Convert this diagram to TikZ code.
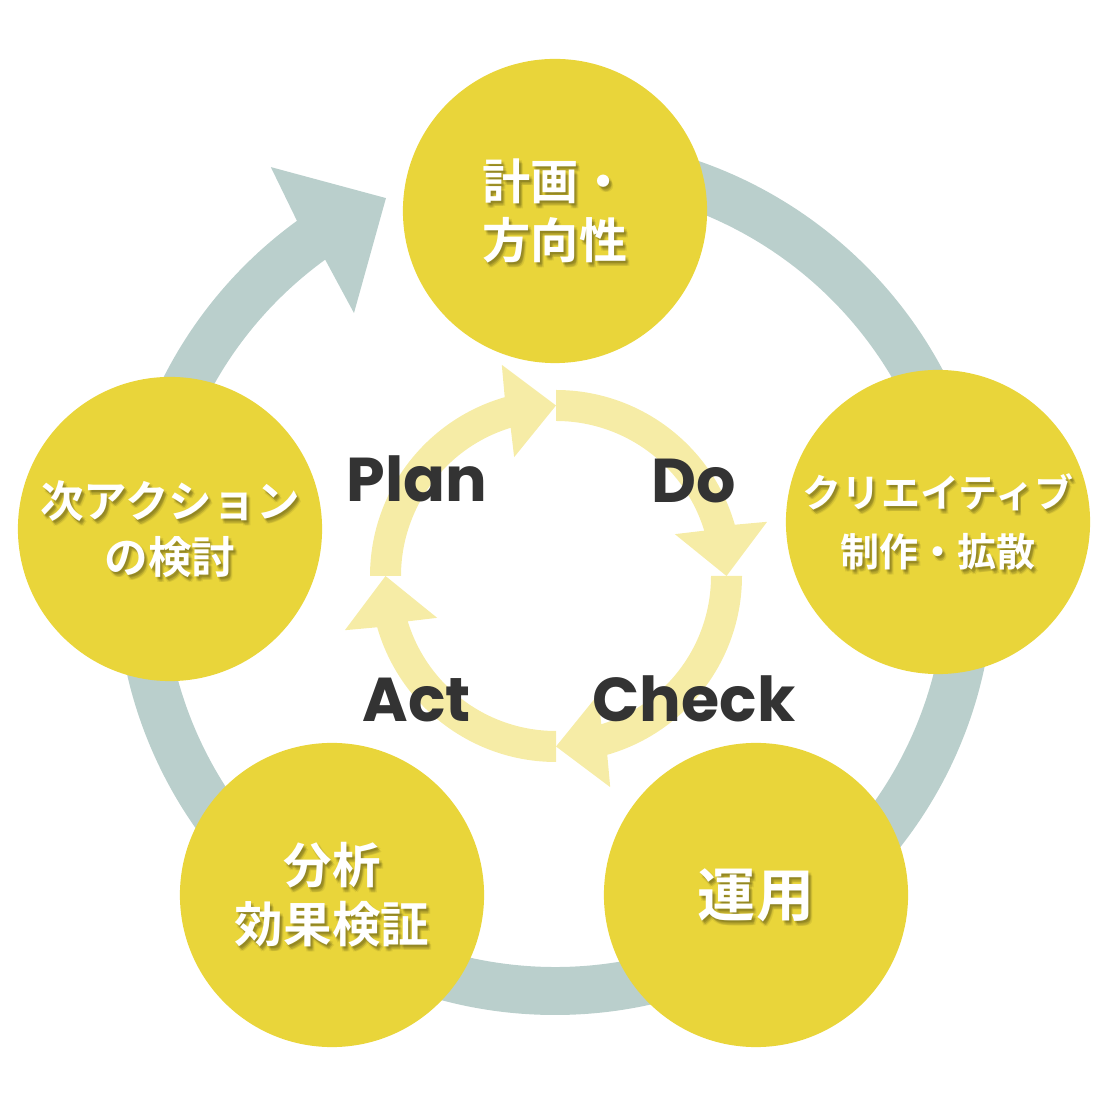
\documentclass[tikz,border=0pt]{standalone}
\usepackage{fontspec}
\newfontfamily\jpfont{Noto Sans CJK JP}[BoldFont={Noto Sans CJK JP Bold}]
\newfontfamily\pdcafont{Poppins}[BoldFont={Poppins Bold}]
\usetikzlibrary{calc}
\definecolor{cycyellow}{RGB}{233, 213, 58}
\definecolor{cycgray}{RGB}{186, 207, 204}
\definecolor{cyclight}{RGB}{246, 236, 166}
\definecolor{cycdark}{RGB}{51, 51, 51}

\begin{document}
\begin{tikzpicture}[x=0.01cm, y=0.01cm,
    bubble/.style={circle, fill=cycyellow, minimum size=3.04cm, inner sep=0pt},
    bubble text/.style={text=white, align=center, inner sep=0pt},
    bubble shade/.style={text=black, text opacity=0.07, align=center, inner sep=0pt},
    pdca/.style={text=cycdark, anchor=base, inner sep=0pt,
        font=\pdcafont\bfseries\fontsize{17.6pt}{20pt}\selectfont}]

\useasboundingbox (0,0) rectangle (1106,1106);

% =====================================================
% ANILLO EXTERIOR (gris) con flecha
% =====================================================
\coordinate (C) at (555,530);
\fill[cycgray]
    ($(C)+(90:439)$) arc[start angle=90, end angle=-234, radius=439]
    -- ($(C)+(124.8:498)$) -- ($(C)+(114.1:414)$) -- ($(C)+(127.4:331)$)
    -- ($(C)+(-234:391)$) arc[start angle=-234, end angle=90, radius=391]
    -- cycle;

% =====================================================
% CICLO PDCA (interior)
% =====================================================
\coordinate (P) at (556,530);
\foreach \s in {180, 90, 0, -90} {
    \fill[cyclight]
        ($(P)+(\s:186)$) arc[start angle=\s, end angle=\s-74, radius=186]
        -- ($(P)+(\s-75.6:218)$) -- ($(P)+(\s-90:170.5)$) -- ($(P)+(\s-70.6:126)$)
        -- ($(P)+(\s-73:155)$) arc[start angle=\s-73, end angle=\s, radius=155]
        -- cycle;
}

% Etiquetas PDCA
\node[pdca] (plan-lbl)  at (417, 604) {Plan};
\node[pdca] (do-lbl)    at (694, 603) {Do};
\node[pdca] (check-lbl) at (694, 384) {Check};
\node[pdca] (act-lbl)   at (417, 384) {Act};

% =====================================================
% CIRCULOS (etapas)
% =====================================================
\foreach \nm/\x/\y/\fs/\bs/\txt in {
    keikaku/555/895/13.7/16.8/{計画・\\方向性},
    create/938/584/11.1/16.8/{クリエイティブ\\制作・拡散},
    unyou/756/211/16.5/18/{運用},
    bunseki/332/211/13.8/16.8/{分析\\効果検証},
    next/170/577/12.4/16/{次アクション\\の検討}} {
    \node[bubble] (\nm) at (\x,\y) {};
    % sombra del texto
    \foreach \dx/\dy [count=\k] in {1/-2, 2/-3, 3/-4, 4/-5, 3/-2, 2/-5} {
        \node[bubble shade, font=\jpfont\bfseries\fontsize{\fs pt}{\bs pt}\selectfont]
            (\nm-sh\k) at ([shift={(\dx,\dy)}]\nm) {\txt};
    }
    \node[bubble text, font=\jpfont\bfseries\fontsize{\fs pt}{\bs pt}\selectfont]
        (\nm-txt) at (\nm) {\txt};
}

\end{tikzpicture}
\end{document}
